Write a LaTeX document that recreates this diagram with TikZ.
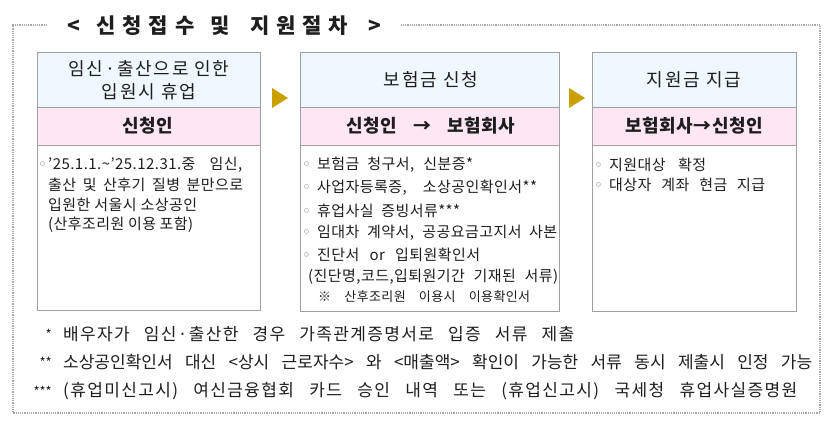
\documentclass[tikz,border=0pt]{standalone}
\usepackage{fontspec}
\setmainfont{Noto Sans CJK KR}
\newfontfamily\hdrfont[LetterSpace=10]{Noto Sans CJK KR}
\newfontfamily\pnkfont[LetterSpace=3]{Noto Sans CJK KR}
\newfontfamily\bodyfont[LetterSpace=3]{Noto Sans CJK KR}
\newfontfamily\footfont[LetterSpace=8]{Noto Sans CJK KR}
\newfontfamily\foottightfont[LetterSpace=0]{Noto Sans CJK KR}
\newfontfamily\bulfont{DejaVu Sans}
\definecolor{hdrfill}{HTML}{EEF8FE}
\definecolor{pnkfill}{HTML}{FFE6F4}
\definecolor{bdr}{HTML}{A0A0A0}
\definecolor{gold}{HTML}{C9A000}
\definecolor{txt}{HTML}{1E1E1E}
\definecolor{frm}{HTML}{AAAAAA}
\newcommand\fitl[2]{\makebox[#1pt][s]{#2}}
\newcommand\bul{{\bulfont\color{gray}◦}}
\newcommand\gapw[1]{\hskip 0pt plus #1fil\relax}
\tikzset{
  boxpart/.style={draw=bdr, line width=1.3pt, anchor=north west, inner sep=0pt},
  hdrbox/.style={boxpart, fill=hdrfill},
  pnkbox/.style={boxpart, fill=pnkfill},
  bodybox/.style={boxpart, fill=white},
  hdrtext/.style={font=\hdrfont\fontsize{18}{23}\selectfont, text=txt, align=center, inner sep=0pt},
  pnktext/.style={font=\pnkfont\bfseries\fontsize{18}{20}\selectfont, text=txt, inner sep=0pt},
  bodytext/.style={font=\bodyfont\fontsize{15}{17}\selectfont, text=txt, anchor=west, inner sep=0pt},
  smalltext/.style={font=\bodyfont\fontsize{13}{14}\selectfont, text=txt, anchor=west, inner sep=0pt},
  foottext/.style={font=\footfont\fontsize{17}{19}\selectfont, text=txt, anchor=west, inner sep=0pt},
  foottight/.style={font=\foottightfont\fontsize{17}{19}\selectfont, text=txt, anchor=west, inner sep=0pt},
  starmark/.style={font=\fontsize{13}{14}\selectfont, text=txt, anchor=east, inner sep=0pt},
  frame/.style={draw=frm, line width=1.2pt, densely dotted},
  stepmark/.style={fill=gold},
}
\newcommand\lowstar[1]{\raisebox{-4pt}{#1}}
\begin{document}
\begin{tikzpicture}[x=1pt, y=-1pt]
\useasboundingbox (0,0) rectangle (834,423);
% outer frame
\coordinate (fA) at (47,25);
\coordinate (fB) at (13,25);
\coordinate (fC) at (13,413);
\coordinate (fD) at (820,413);
\coordinate (fE) at (820,25);
\coordinate (fF) at (401,25);
\draw[frame] (fA) -- (fB) -- (fC) -- (fD) -- (fE) -- (fF);
% title
\node[font=\bfseries\fontsize{21}{26}\selectfont, text=txt, inner sep=0pt] (title) at (224,26)
  {\hbox to 314pt{<\gapw{2.5}신\hfil 청\hfil 접\hfil 수\gapw{2.4}및\gapw{3}지\hfil 원\hfil 절\hfil 차\gapw{3}>}};

% box 1
\node[hdrbox, minimum width=223pt, minimum height=55pt] (h1) at (37,52) {};
\node[pnkbox, minimum width=223pt, minimum height=38pt] (p1) at (37,107) {};
\node[bodybox, minimum width=223pt, minimum height=165pt] (b1) at (37,145) {};
\node[hdrtext] (h1t) at (149,80) {임신·출산으로 인한\\입원시 휴업};
\node[pnktext] (p1t) at (148,126) {신청인};
\node[bodytext] (b1l1) at (38,165) {\makebox[10pt][l]{\bul}\fitl{194}{’25.1.1.\textasciitilde’25.12.31.중 임신,}};
\node[bodytext] (b1l2) at (48,185) {\fitl{195}{출산 및 산후기 질병 분만으로}};
\node[bodytext] (b1l3) at (48,205) {\fitl{149}{입원한 서울시 소상공인}};
\node[bodytext] (b1l4) at (48,225) {\fitl{145}{(산후조리원 이용 포함)}};

% box 2
\node[hdrbox, minimum width=259pt, minimum height=55pt] (h2) at (300,52) {};
\node[pnkbox, minimum width=259pt, minimum height=38pt] (p2) at (300,107) {};
\node[bodybox, minimum width=259pt, minimum height=166pt] (b2) at (300,145) {};
\node[hdrtext] (h2t) at (431,80) {보험금 신청};
\node[pnktext] (p2t) at (431,126) {\fitl{169}{신청인 → 보험회사}};
\node[bodytext] (b2l1) at (302,165) {\makebox[15pt][l]{\bul}\fitl{156}{보험금 청구서, 신분증*}};
\node[bodytext] (b2l2) at (302,188) {\makebox[15pt][l]{\bul}\fitl{220}{사업자등록증, 소상공인확인서**}};
\node[bodytext] (b2l3) at (302,211) {\makebox[15pt][l]{\bul}\fitl{143}{휴업사실 증빙서류***}};
\node[bodytext] (b2l4) at (302,233) {\makebox[15pt][l]{\bul}\fitl{240}{임대차 계약서, 공공요금고지서 사본}};
\node[bodytext] (b2l5) at (302,255) {\makebox[15pt][l]{\bul}\fitl{163}{진단서 or 입퇴원확인서}};
\node[bodytext] (b2l6) at (308,277) {\fitl{250}{(진단명,코드,입퇴원기간 기재된 서류)}};
\node[smalltext] (b2l7) at (318,297) {\fitl{212}{※ 산후조리원 이용시 이용확인서}};

% box 3
\node[hdrbox, minimum width=204pt, minimum height=55pt] (h3) at (592,52) {};
\node[pnkbox, minimum width=204pt, minimum height=38pt] (p3) at (592,107) {};
\node[bodybox, minimum width=204pt, minimum height=166pt] (b3) at (592,145) {};
\node[hdrtext] (h3t) at (694,80) {지원금 지급};
\node[pnktext] (p3t) at (694,126) {보험회사→신청인};
\node[bodytext] (b3l1) at (594,165) {\makebox[15pt][l]{\bul}\fitl{97}{지원대상 확정}};
\node[bodytext] (b3l2) at (594,185) {\makebox[15pt][l]{\bul}\fitl{156}{대상자 계좌 현금 지급}};

% step markers
\coordinate (m1) at (280,98);
\coordinate (m2) at (577,98);
\fill[stepmark] ([shift={(-8,-10)}]m1) -- ([shift={(8,0)}]m1) -- ([shift={(-8,10)}]m1) -- cycle;
\fill[stepmark] ([shift={(-8,-10)}]m2) -- ([shift={(8,0)}]m2) -- ([shift={(-8,10)}]m2) -- cycle;

% footnotes
\node[starmark] (s1) at (52,334) {\lowstar{*}};
\node[foottext] (f1) at (63,334) {\fitl{511}{배우자가 임신·출산한 경우 가족관계증명서로 입증 서류 제출}};
\node[starmark] (s2) at (52,362) {\lowstar{**}};
\node[foottight] (f2) at (63,362) {\fitl{749}{소상공인확인서 대신 <상시 근로자수> 와 <매출액> 확인이 가능한 서류 동시 제출시 인정 가능}};
\node[starmark] (s3) at (52,391) {\lowstar{***}};
\node[foottext] (f3) at (63,391) {\fitl{734}{(휴업미신고시) 여신금융협회 카드 승인 내역 또는 (휴업신고시) 국세청 휴업사실증명원}};
\end{tikzpicture}
\end{document}
